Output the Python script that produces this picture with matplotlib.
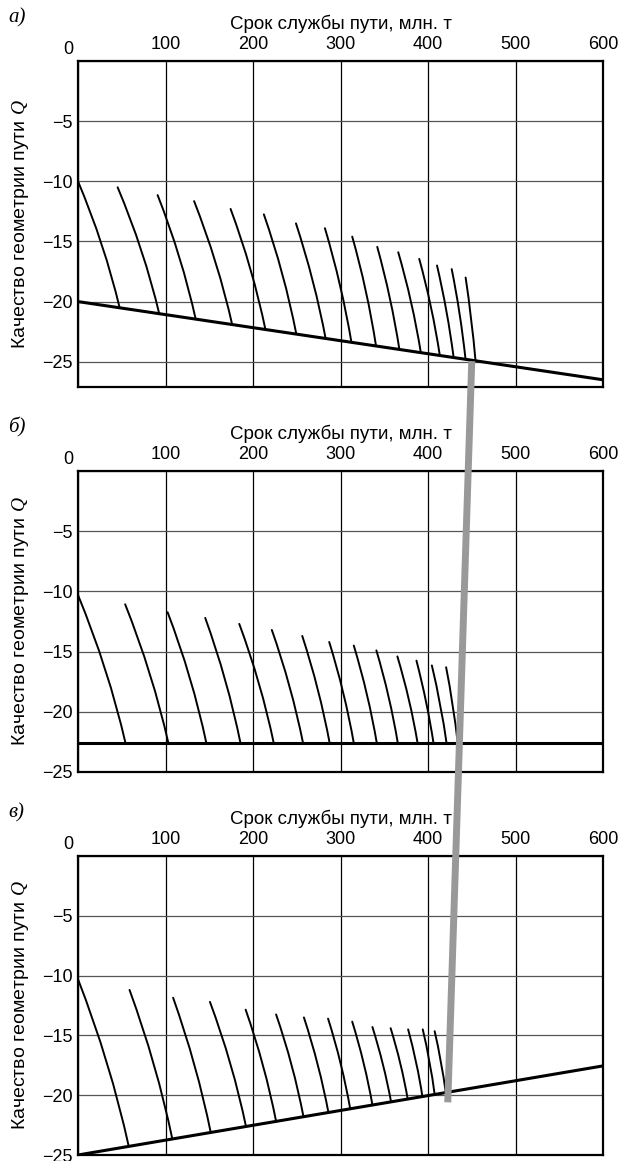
import matplotlib
matplotlib.use("Agg")
import matplotlib.pyplot as plt
from matplotlib.path import Path
from matplotlib.patches import PathPatch, ConnectionPatch
import numpy as np

plt.rcParams["font.family"] = ["Liberation Sans", "DejaVu Sans"]
plt.rcParams["mathtext.fontset"] = "custom"
plt.rcParams["mathtext.it"] = "Liberation Serif:italic"
plt.rcParams["mathtext.rm"] = "Liberation Sans"

X_TICKS = [0, 100, 200, 300, 400, 500, 600]
Y_TICKS = [0, -5, -10, -15, -20, -25]
XLABEL = "Срок службы пути, млн. т"
YLABEL = "Качество геометрии пути $Q$"

# panel a): falling envelope
A_ENV_X = [0, 600]
A_ENV_Q = [-20.0, -26.5]
A_TOP_X = [0, 45.3, 91.0, 132.7, 174.4, 212.4, 249.1, 282.2, 313.4, 342.0, 366.0, 390.0, 410.3, 427.1, 443.0]
A_TOP_Q = [-10.0, -10.5, -11.15, -11.65, -12.3, -12.75, -13.5, -13.9, -14.6, -15.45, -15.9, -16.45, -17.0, -17.3, -18.0]
A_MID_X = [27.1, 72.4, 115.8, 157.5, 197.1, 233.5, 268.4, 299.5, 328.9, 356.4, 380.7, 403.4, 421.1, 436.1, 449.4]
A_MID_Q = [-15.25, -15.75, -16.3, -16.8, -17.3, -17.7, -18.3, -18.65, -19.1, -19.7, -20.05, -20.45, -20.8, -21.0, -21.45]
A_BOT_X = [47.6, 92.8, 134.5, 176.2, 214.2, 249.5, 283.0, 312.5, 340.6, 367.3, 391.8, 413.5, 429.3, 442.9, 454.3]
A_BOT_Q = [-20.52, -21.0, -21.46, -21.91, -22.32, -22.70, -23.07, -23.39, -23.69, -23.98, -24.24, -24.48, -24.65, -24.80, -24.92]

# panel б): constant envelope
B_ENV_X = [0, 600]
B_ENV_Q = [-22.6, -22.6]
B_TOP_X = [0, 53.9, 102.4, 145.4, 184.3, 221.5, 256.3, 287.1, 315.2, 341.0, 365.0, 386.8, 404.4, 420.7]
B_TOP_Q = [-10.3, -11.07, -11.73, -12.2, -12.7, -13.2, -13.7, -14.2, -14.5, -14.9, -15.4, -15.75, -16.15, -16.3]
B_MID_X = [31.0, 82.1, 127.7, 168.4, 206.8, 241.8, 274.1, 303.1, 330.2, 355.0, 378.2, 397.9, 414.0, 428.3]
B_MID_Q = [-16.45, -16.85, -17.15, -17.4, -17.65, -17.9, -18.15, -18.4, -18.55, -18.75, -19.0, -19.2, -19.4, -19.45]
B_BOT_X = [54.3, 103.3, 146.7, 185.7, 223.7, 257.2, 287.6, 315.2, 341.5, 365.5, 388.1, 406.3, 421.2, 434.0]
B_BOT_Q = [-22.6] * 14

# panel в): rising envelope
C_ENV_X = [0, 600]
C_ENV_Q = [-25.0, -17.55]
C_TOP_X = [0, 58.9, 108.7, 150.8, 191.6, 226.4, 258.2, 285.8, 313.4, 336.5, 357.3, 377.3, 394.0, 407.6]
C_TOP_Q = [-10.3, -11.2, -11.85, -12.2, -12.85, -13.25, -13.5, -13.6, -13.85, -14.3, -14.4, -14.5, -14.5, -14.65]
C_MID_X = [33.1, 86.8, 133.2, 174.3, 211.4, 244.2, 274.2, 300.2, 326.6, 348.6, 368.4, 386.6, 401.8, 414.8]
C_MID_Q = [-17.3, -17.45, -17.5, -17.4, -17.5, -17.5, -17.5, -17.35, -17.35, -17.45, -17.35, -17.3, -17.2, -17.2]
C_BOT_X = [58.0, 107.8, 151.7, 192.0, 226.4, 257.7, 286.2, 311.1, 336.5, 357.8, 376.8, 393.6, 407.6, 420.3]
C_BOT_Q = [-24.28, -23.66, -23.12, -22.62, -22.19, -21.8, -21.45, -21.14, -20.82, -20.56, -20.32, -20.11, -19.94, -19.78]

# gray link: from the end point in a) to the end point in в)
LINK_A = (450.0, -24.95)
LINK_C = (422.6, -20.6)

W, H = 622, 1161
fig = plt.figure(figsize=(W / 100, H / 100), dpi=100)
fig.patch.set_facecolor("white")

LEFT, WIDTH = 78 / W, 525 / W
POS = [
    (1 - 387 / H, 326 / H, -27.1, "а)"),
    (1 - 772 / H, 301 / H, -25.0, "б)"),
    (1 - 1155 / H, 299 / H, -25.0, "в)"),
]


def draw_curves(ax, tx, tq, mx, mq, bx, bq):
    for i in range(len(tx)):
        p0 = np.array([tx[i], tq[i]])
        pm = np.array([mx[i], mq[i]])
        p2 = np.array([bx[i], bq[i]])
        ctrl = 2 * pm - (p0 + p2) / 2
        path = Path([p0, ctrl, p2], [Path.MOVETO, Path.CURVE3, Path.CURVE3])
        ax.add_patch(PathPatch(path, fill=False, edgecolor="black", lw=1.4,
                               capstyle="round", zorder=3))


def setup_axes(ax, ybottom, label):
    ax.set_xlim(0, 600)
    ax.set_ylim(ybottom, 0)
    ax.xaxis.tick_top()
    ax.xaxis.set_label_position("top")
    ax.set_xticks(X_TICKS)
    ax.set_xticklabels([""] + [str(v) for v in X_TICKS[1:]])
    ax.set_yticks(Y_TICKS)
    ax.set_yticklabels([""] + [str(v).replace("-", "\u2212") for v in Y_TICKS[1:]])
    ax.tick_params(axis="x", length=0, pad=6, labelsize=13)
    ax.tick_params(axis="y", length=0, pad=4, labelsize=13)
    ax.xaxis.grid(True, color="black", lw=0.9)
    ax.yaxis.grid(True, color="#555555", lw=0.9)
    ax.set_axisbelow(True)
    for sp in ax.spines.values():
        sp.set_linewidth(1.6)
        sp.set_zorder(5)
    ax.set_xlabel(XLABEL, fontsize=13.5, labelpad=5)
    ax.set_ylabel(YLABEL, fontsize=14, labelpad=8)
    ax.annotate("0", xy=(0, 1), xycoords="axes fraction", xytext=(-3.6, 8),
                textcoords="offset points", ha="right", va="center", fontsize=13)
    ax.annotate(label, xy=(0, 1), xycoords="axes fraction", xytext=(-50, 31),
                textcoords="offset points", ha="left", va="center", fontsize=15,
                family="Liberation Serif", style="italic")


axes = []
for bottom, height, ybot, label in POS:
    ax = fig.add_axes([LEFT, bottom, WIDTH, height])
    setup_axes(ax, ybot, label)
    axes.append(ax)

ax_a, ax_b, ax_c = axes
ax_a.plot(A_ENV_X, A_ENV_Q, color="black", lw=2.2, zorder=4, solid_capstyle="butt")
draw_curves(ax_a, A_TOP_X, A_TOP_Q, A_MID_X, A_MID_Q, A_BOT_X, A_BOT_Q)
ax_b.plot(B_ENV_X, B_ENV_Q, color="black", lw=2.2, zorder=4, solid_capstyle="butt")
draw_curves(ax_b, B_TOP_X, B_TOP_Q, B_MID_X, B_MID_Q, B_BOT_X, B_BOT_Q)
ax_c.plot(C_ENV_X, C_ENV_Q, color="black", lw=2.2, zorder=4, solid_capstyle="butt")
draw_curves(ax_c, C_TOP_X, C_TOP_Q, C_MID_X, C_MID_Q, C_BOT_X, C_BOT_Q)

link = ConnectionPatch(xyA=LINK_A, coordsA=ax_a.transData,
                       xyB=LINK_C, coordsB=ax_c.transData,
                       arrowstyle="-", color="#999999", lw=5, capstyle="butt", zorder=10)
fig.add_artist(link)

fig.savefig("out.png", dpi=100, facecolor="white")
